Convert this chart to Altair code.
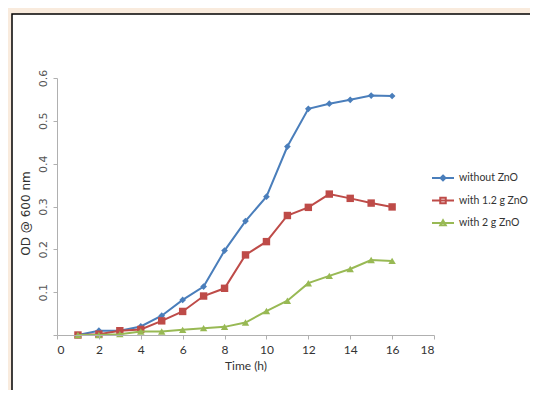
import altair as alt
import pandas as pd

time_h = list(range(1, 17))
without_zno = [0.0, 0.01, 0.01, 0.02, 0.045, 0.082, 0.113, 0.197, 0.266, 0.323, 0.44, 0.528, 0.54, 0.549, 0.559, 0.558]
with_12g = [0.0, 0.002, 0.01, 0.013, 0.033, 0.055, 0.091, 0.109, 0.187, 0.218, 0.279, 0.298, 0.329, 0.319, 0.308, 0.299]
with_2g = [0.0, 0.0, 0.002, 0.008, 0.008, 0.012, 0.016, 0.019, 0.029, 0.056, 0.080, 0.121, 0.138, 0.154, 0.175, 0.173]

series_names = ["without ZnO", "with 1.2 g ZnO", "with 2 g ZnO"]
series_colors = ["#4a7ebb", "#be4b48", "#98b954"]
plot_shapes = ["diamond", "square", "triangle-up"]
plot_sizes = [45, 55, 55]
legend_shapes = [
    "M-1,0H1M0,-0.22L0.22,0L0,0.22L-0.22,0Z",
    "M-1,0H1M-0.25,-0.25H0.25V0.25H-0.25Z",
    "M-1,0H1M0,-0.25L0.25,0.2H-0.25Z",
]
x_ticks = list(range(0, 19, 2))
y_ticks = [0, 0.1, 0.2, 0.3, 0.4, 0.5, 0.6]

rows = []
for name, vals in zip(series_names, [without_zno, with_12g, with_2g]):
    for t, v in zip(time_h, vals):
        rows.append({"time": t, "od": v, "series": name})
df = pd.DataFrame(rows)

x_enc = alt.X("time:Q", scale=alt.Scale(domain=[0, 18], nice=False),
              axis=alt.Axis(values=x_ticks, title="Time (h)", grid=False,
                            domainColor="#b0b0b0", tickColor="#b0b0b0", tickSize=4,
                            labelFont="Lato", labelFontSize=12, labelColor="#333333",
                            labelPadding=5, titleFont="Lato", titleFontSize=12,
                            titleFontWeight="normal", titleColor="#333333",
                            titleY=30, titleBaseline="middle", zindex=1))
y_enc = alt.Y("od:Q", scale=alt.Scale(domain=[0, 0.6], nice=False),
              axis=alt.Axis(values=y_ticks, title="OD @ 600 nm", grid=False,
                            labelExpr="datum.value == 0 ? '' : datum.label",
                            labelAngle=270, labelAlign="center", labelBaseline="middle",
                            labelPadding=10, labelFont="DejaVu Sans", labelFontSize=11,
                            labelColor="#555555", domainColor="#b0b0b0",
                            tickColor="#b0b0b0", tickSize=4,
                            titleFont="DejaVu Sans", titleFontSize=12,
                            titleFontWeight="normal", titleColor="#333333",
                            titleAngle=270, titleX=-32, titleY=135,
                            titleAlign="center", titleBaseline="middle", zindex=1))

panel = alt.Chart(pd.DataFrame({"a": [0]})).mark_rect(
    fill="white", stroke="black", strokeWidth=1.5
).encode(x=alt.value(-45), x2=alt.value(700), y=alt.value(-64), y2=alt.value(600))

layers = [panel]
base = alt.Chart(df)
for name, col, shp, sz in zip(series_names, series_colors, plot_shapes, plot_sizes):
    sub = base.transform_filter(alt.datum.series == name)
    layers.append(sub.mark_line(color=col, strokeWidth=2).encode(x=x_enc, y=y_enc))
    layers.append(sub.mark_point(color=col, shape=shp, size=sz, filled=True, opacity=1)
                  .encode(x=x_enc, y=y_enc))

leg = dict(title=None, orient="none", legendX=374, legendY=88,
           padding=0, symbolSize=484, symbolOpacity=1,
           symbolStrokeWidth=2, rowPadding=3.5, labelOffset=4,
           labelFont="Lato", labelFontSize=10.5, labelColor="#333333", zindex=2)
legend_layer = base.mark_point(opacity=0, filled=False, strokeWidth=2).encode(
    x=x_enc, y=y_enc,
    color=alt.Color("series:N", scale=alt.Scale(domain=series_names, range=series_colors),
                    legend=alt.Legend(**leg)),
    shape=alt.Shape("series:N", scale=alt.Scale(domain=series_names, range=legend_shapes),
                    legend=alt.Legend(**leg)),
)
layers.append(legend_layer)

chart = alt.layer(*layers).properties(
    width=377, height=257,
    autosize=alt.AutoSizeParams(type="none"),
    padding={"left": 49, "top": 70, "right": 96, "bottom": 55},
    background="#f9ebdd",
).configure_view(stroke=None)

chart.save("out.html", embed_options={"renderer": "svg", "actions": False})
